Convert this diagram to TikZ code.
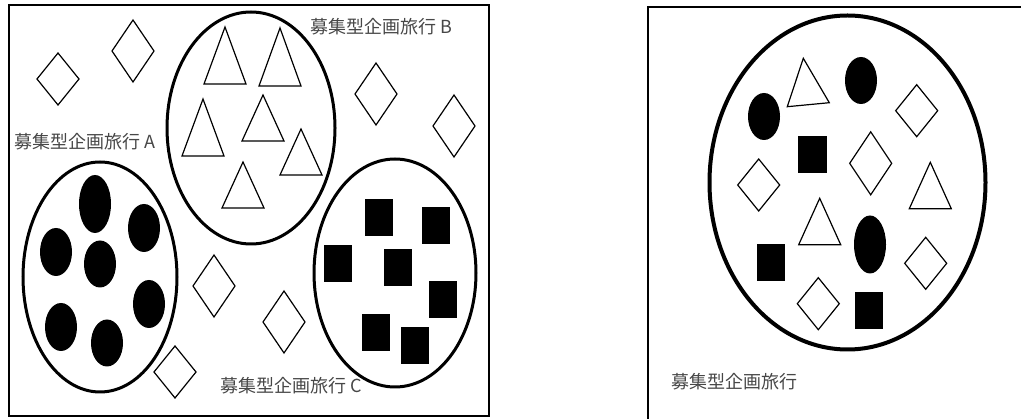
\documentclass[tikz,border=0pt]{standalone}
\usepackage{fontspec}
\newfontfamily\cjk{Noto Sans CJK JP}
\tikzset{
  frame/.style={line width=2pt},
  group/.style={line width=3pt},
  biggroup/.style={line width=4pt},
  outl/.style={line width=1.2pt, line join=miter},
  blk/.style={fill=black, draw=none},
  lbl/.style={inner sep=0pt, anchor=base west, text=black!72, font=\cjk\fontsize{18}{18}\selectfont},
}
% triangle: apex x, apex y, base y
\newcommand\mytri[3]{\draw[outl] (#1,#2) -- (#1-21,#3) -- (#1+21,#3) -- cycle;}
% diamond: cx, cy, half height
\newcommand\mydia[3]{\draw[outl] (#1,#2-#3) -- (#1+21,#2) -- (#1,#2+#3) -- (#1-21,#2) -- cycle;}
% black oval: cx, cy, y radius
\newcommand\myoval[3]{\fill (#1,#2) ellipse [x radius=16pt, y radius=#3pt];}
% black rectangle: left x, top y
\newcommand\myrect[2]{\fill (#1,#2) rectangle ++(28,37);}
\begin{document}
\begin{tikzpicture}[x=1pt,y=-1pt]
\useasboundingbox (0,0) rectangle (1021,419);
% left frame
\draw[frame] (9,5) rectangle (489,416);
% right frame (only top and left edges visible)
\draw[frame] (648,420) -- (648,7) -- (1022,7);

% --- left panel groups ---
\draw[group] (251,128) ellipse [x radius=84pt, y radius=116pt];
\draw[group] (100,277) ellipse [x radius=77pt, y radius=115pt];
\draw[group] (395,273) ellipse [x radius=81pt, y radius=114pt];

% triangles in B
\mytri{225}{27}{84}
\mytri{280}{28}{86}
\mytri{203}{99}{156}
\mytri{263}{95}{141}
\mytri{301}{129}{175}
\mytri{243}{162}{208}

% ovals in A
\myoval{95}{204}{29}
\myoval{144}{228}{24}
\myoval{56}{252}{24}
\myoval{100}{264}{23.5}
\myoval{149}{304}{24}
\myoval{61}{327}{24}
\myoval{107}{343}{23.5}

% rectangles in C
\myrect{365}{199}
\myrect{422}{207}
\myrect{324}{245}
\myrect{384}{249}
\myrect{429}{281}
\myrect{362}{314}
\myrect{401}{327}

% free diamonds
\mydia{58}{79}{26}
\mydia{133}{51}{31}
\mydia{376}{94}{31}
\mydia{454}{126}{31}
\mydia{214}{286}{31}
\mydia{284}{322}{31}
\mydia{175}{372}{26}

% labels
\node[lbl] (la) at (14,148.5) {募集型企画旅行 A};
\node[lbl] (lb) at (310,33.3) {募集型企画旅行 B};
\node[lbl] (lc) at (220,393) {募集型企画旅行 C};

% --- right panel ---
\draw[biggroup] (847.5,182.5) ellipse [x radius=138pt, y radius=167pt];
\myoval{764}{116.5}{23.5}
\myoval{861}{80.5}{23.5}
\myoval{870}{244.5}{29}
\draw[outl] (803.3,58.3) -- (787.3,106.7) -- (829.3,102.7) -- cycle;
\mytri{930.3}{162.3}{208.7}
\mytri{819.7}{198.3}{244.7}
\mydia{916.7}{110.7}{26}
\mydia{870.7}{163.3}{31.5}
\mydia{758.7}{185}{26}
\mydia{925.7}{263.3}{26}
\mydia{818.3}{303.7}{26}
\fill (798,136) rectangle ++(29,37);
\fill (756.7,244) rectangle ++(28,37);
\fill (855,291.7) rectangle ++(28.3,37);
\node[lbl] (lr) at (671,388.5) {募集型企画旅行};
\end{tikzpicture}
\end{document}
